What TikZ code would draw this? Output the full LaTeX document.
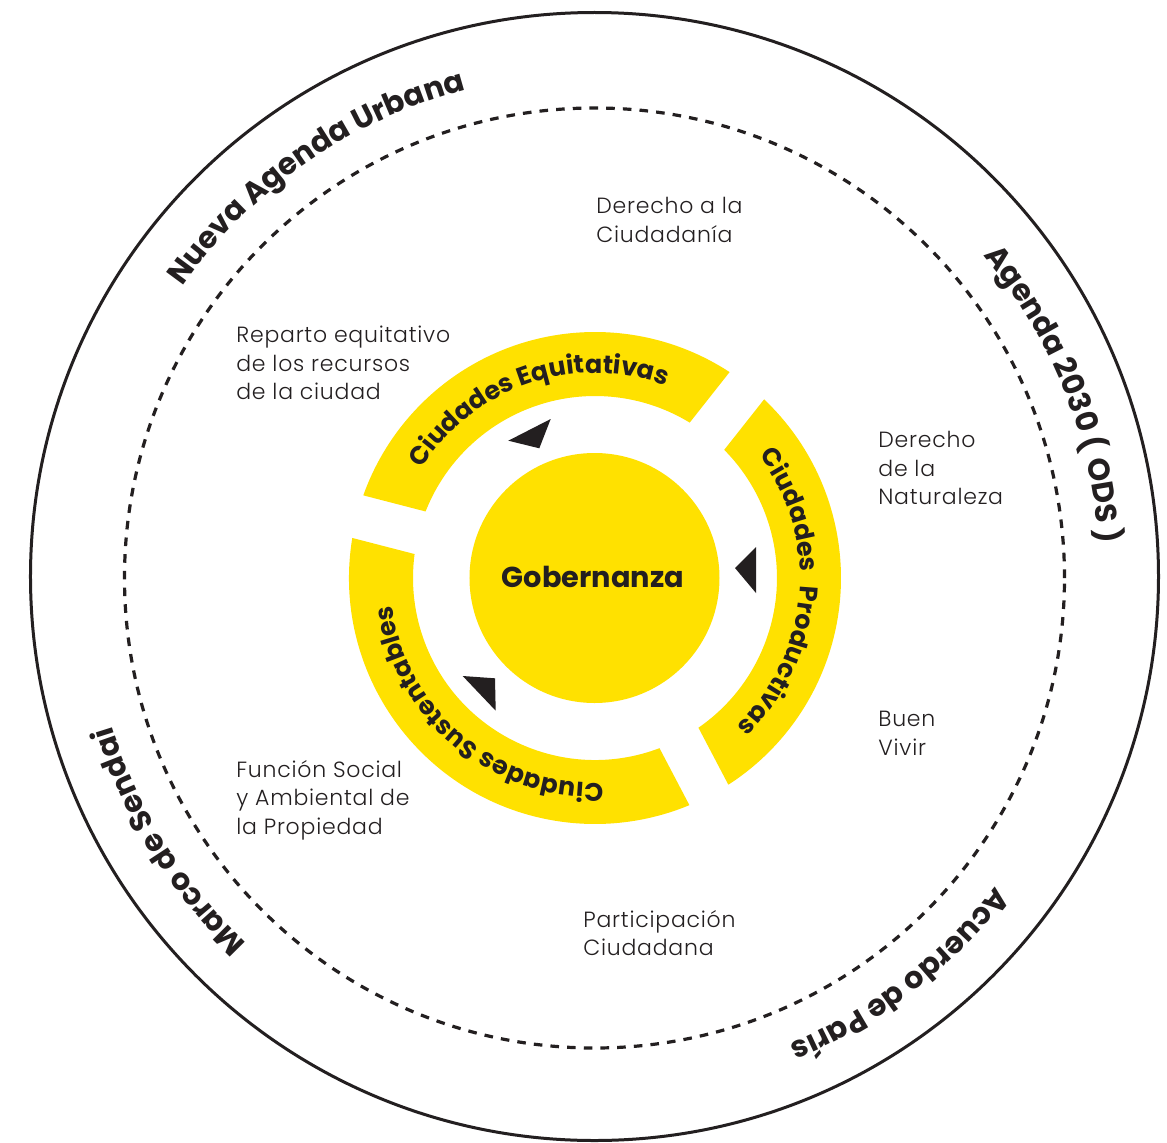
\documentclass[tikz,border=0pt]{standalone}
\usepackage{fontspec}
\setmainfont{Poppins}
\newfontfamily\lightfont{Poppins Light}[LetterSpace=3.5]
\usetikzlibrary{decorations.text}
\definecolor{yel}{HTML}{FFE100}
\definecolor{ink}{HTML}{231F20}
\newcommand\olabfont{\bfseries\fontsize{15.1}{17}\selectfont\color{ink}}
\newcommand\rlabfont{\bfseries\fontsize{12.7}{15}\selectfont\color{ink}}
% ring segment between two gap-centre angles (#1 < #2)
\newcommand\drawringseg[2]{%
  \fill[yel] ({#1+5.13}:246) arc[start angle={#1+5.13}, end angle={#2-5.13}, radius=246]
    -- ({#2-6.94}:182) arc[start angle={#2-6.94}, end angle={#1+6.94}, radius=182] -- cycle;}
\begin{document}
\begin{tikzpicture}[x=0.5pt,y=0.5pt,
  body/.style={font=\lightfont\fontsize{11}{14.25}\selectfont, text=ink, align=left, anchor=north west, inner sep=0pt},
  tri/.style={fill=ink, draw=none},
  olab/.style={decorate, decoration={text along path, text align=center, text={|\olabfont|#1}}},
  rlab/.style={decorate, decoration={text along path, text align=center, text={|\rlabfont|#1}}}
]
\useasboundingbox (-595,-564) rectangle (572,578);
\fill[white] (-595,-564) rectangle (572,578);

% circles
\draw[ink, line width=1.5pt] (-0.5,1.5) circle[radius=564];
\draw[ink, line width=1.6pt, dash pattern=on 4.3pt off 4.05pt] (-0.5,0) circle[radius=470];
\fill[yel] (-0.5,0) circle[radius=125];
\node[font=\bfseries\fontsize{14.4}{16}\selectfont, text=ink] (gob) at (-2,1) {Gobernanza};

% ring segments
\drawringseg{-62.3}{51.7}
\drawringseg{51.7}{165.5}
\drawringseg{165.5}{297.7}

% triangles
\fill[tri] (-86.7,137.3) -- (-44.3,159) -- (-55.7,129.7) -- cycle;
\fill[tri] (140,10) -- (161,31) -- (161,-15) -- cycle;
\fill[tri] (-132.3,-98) -- (-100,-100.3) -- (-99.3,-132.7) -- cycle;

% ring labels
\path[rlab={Ciudades Equitativas}] (168.8:205) arc[start angle=168.8, end angle=48.8, radius=205];
\path[rlab={Ciudades{\kern7pt}Productivas}] (55.3:205) arc[start angle=55.3, end angle=-64.7, radius=205];
\path[rlab={Ciudades Sustentables}] (290:205) arc[start angle=290, end angle=170, radius=205];

% outer labels
\path[olab={Nueva Agenda Urbana}] (184.8:505) arc[start angle=184.8, end angle=64.8, radius=505];
\path[olab={Agenda 2030 ( ODS )}] (81.8:505) arc[start angle=81.8, end angle=-38.2, radius=505];
\path[olab={Acuerdo de París}] (7.5:505) arc[start angle=7.5, end angle=-112.5, radius=505];
\path[olab={Marco de Sendai}] (-88.3:505) arc[start angle=-88.3, end angle=-208.3, radius=505];

% body texts
\node[body] (t1) at (1,381) {Derecho a la\\Ciudadanía};
\node[body] (t2) at (-359,252) {Reparto equitativo\\de los recursos\\de la ciudad};
\node[body] (t3) at (283,147) {Derecho\\de la\\Naturaleza};
\node[body] (t4) at (283,-133) {Buen\\Vivir};
\node[body] (t5) at (-359,-182) {Función Social\\y Ambiental de\\la Propiedad};
\node[body] (t6) at (-12,-332) {Participación\\Ciudadana};
\end{tikzpicture}
\end{document}
